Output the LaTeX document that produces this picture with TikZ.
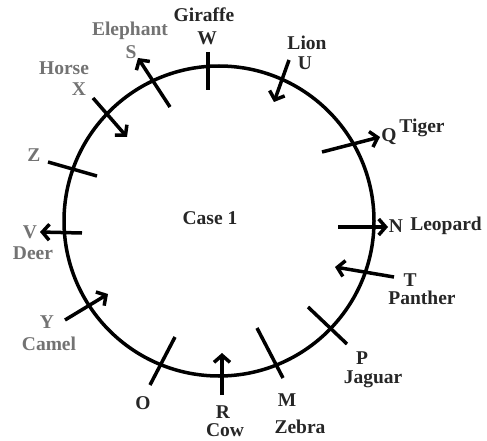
\documentclass[tikz,border=0pt]{standalone}
\usepackage{fontspec}
\setmainfont{Liberation Serif}
\usetikzlibrary{arrows.meta}
\begin{document}
\begin{tikzpicture}[x=1pt,y=-1pt,
  every node/.style={font=\fontsize{19.5}{21}\selectfont\bfseries,text=black!85,inner sep=1pt},
  seat/.style={line width=3.5pt},
  face/.style={line width=3.5pt,-{Straight Barb[length=7pt,width=16pt]}},
  faded/.style={text=black!55}]
\useasboundingbox (0,0) rectangle (487,441);
% Table
\coordinate (c) at (219,221);
\draw[line width=3.5pt] (c) circle (155pt);
\node (case) at (210,218) {Case 1};
% W - Giraffe
\coordinate (w1) at (208,52); \coordinate (w2) at (208,90);
\draw[seat] (w1) -- (w2);
\node (W) at (207,38) {W};
\node (giraffe) at (204,15) {Giraffe};
% U - Lion
\coordinate (u0) at (289,60); \coordinate (u1) at (274,102);
\draw[face] (u0) -- (u1);
\node (U) at (305,63) {U};
\node (lion) at (307,43) {Lion};
% Q - Tiger
\coordinate (q0) at (322,152); \coordinate (q1) at (380,137);
\draw[face] (q0) -- (q1);
\node (Q) at (389,137) {Q};
\node (tiger) at (422,128) {Tiger};
% N - Leopard
\coordinate (n0) at (338,227); \coordinate (n1) at (388,227);
\draw[face] (n0) -- (n1);
\node (N) at (396,226) {N};
\node (leopard) at (446,226) {Leopard};
% T - Panther
\coordinate (t0) at (394,277); \coordinate (t1) at (335,267);
\draw[face] (t0) -- (t1);
\node (T) at (410,280) {T};
\node (panther) at (422,298) {Panther};
% P - Jaguar
\coordinate (p1) at (308,307); \coordinate (p2) at (347,344);
\draw[seat] (p1) -- (p2);
\node (P) at (362,358) {P};
\node (jaguar) at (373,379) {Jaguar};
% M - Zebra
\coordinate (m1) at (257,328); \coordinate (m2) at (283,378);
\draw[seat] (m1) -- (m2);
\node (M) at (287,400) {M};
\node (zebra) at (300,427) {Zebra};
% R - Cow
\coordinate (r0) at (222,395); \coordinate (r1) at (222,353);
\draw[face] (r0) -- (r1);
\node (R) at (223,412) {R};
\node (cow) at (225,430) {Cow};
% O
\coordinate (o1) at (175,337); \coordinate (o2) at (150,385);
\draw[seat] (o1) -- (o2);
\node (O) at (143,403) {O};
% Y - Camel
\coordinate (y0) at (65,320); \coordinate (y1) at (108,294);
\draw[face] (y0) -- (y1);
\node[faded] (Y) at (47,322) {Y};
\node[faded] (camel) at (49,344) {Camel};
% V - Deer
\coordinate (v0) at (82,233); \coordinate (v1) at (40,232);
\draw[face] (v0) -- (v1);
\node[faded] (V) at (30,232) {V};
\node[faded] (deer) at (33,253) {Deer};
% Z
\coordinate (z1) at (48,162); \coordinate (z2) at (97,176);
\draw[seat] (z1) -- (z2);
\node[faded] (Z) at (34,155) {Z};
% X - Horse
\coordinate (x0) at (93,98); \coordinate (x1) at (127,137);
\draw[face] (x0) -- (x1);
\node[faded] (X) at (79,89) {X};
\node[faded] (horse) at (64,68) {Horse};
% S - Elephant
\coordinate (s0) at (170,107); \coordinate (s1) at (138,58);
\draw[face] (s0) -- (s1);
\node[faded] (S) at (131,52) {S};
\node[faded] (elephant) at (130,31) {Elephant};
\end{tikzpicture}
\end{document}
